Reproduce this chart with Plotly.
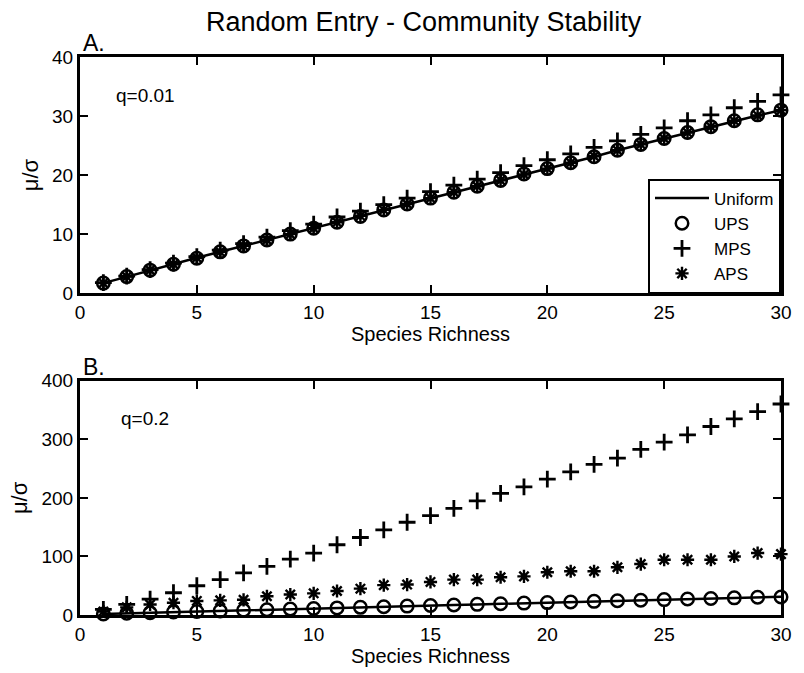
import plotly.graph_objects as go
from plotly.subplots import make_subplots

# Species richness (number of species in the community)
richness = list(range(1, 31))

# Panel A, q = 0.01
a_uniform = [1.7, 2.8, 3.9, 4.9, 6.0, 7.0, 8.0, 9.0, 10.0, 11.0,
             12.0, 13.0, 14.1, 15.1, 16.1, 17.1, 18.1, 19.1, 20.1, 21.1,
             22.1, 23.1, 24.2, 25.2, 26.2, 27.2, 28.2, 29.2, 30.1, 31.0]
a_ups = [1.7, 2.8, 3.9, 4.9, 5.9, 7.0, 8.0, 9.0, 10.0, 11.0,
         12.0, 13.0, 14.1, 15.1, 16.1, 17.1, 18.1, 19.1, 20.2, 21.1,
         22.1, 23.1, 24.2, 25.2, 26.2, 27.2, 28.2, 29.2, 30.2, 31.0]
a_mps = [1.8, 2.9, 4.0, 5.1, 6.2, 7.3, 8.4, 9.5, 10.6, 11.7,
         12.9, 13.9, 15.0, 16.1, 17.2, 18.3, 19.3, 20.4, 21.6, 22.6,
         23.6, 24.7, 25.8, 26.9, 28.0, 29.2, 30.2, 31.4, 32.5, 33.6]
a_aps = [1.7, 2.8, 3.9, 4.9, 6.0, 7.0, 8.0, 9.0, 10.0, 11.0,
         12.0, 13.1, 14.1, 15.1, 16.1, 17.1, 18.1, 19.1, 20.1, 21.1,
         22.1, 23.2, 24.2, 25.2, 26.2, 27.2, 28.2, 29.2, 30.1, 31.0]

# Panel B, q = 0.2
b_uniform = [1.7, 2.8, 3.9, 4.9, 6.0, 7.0, 8.0, 9.0, 10.0, 11.0,
             12.0, 13.0, 14.1, 15.1, 16.1, 17.1, 18.1, 19.1, 20.1, 21.1,
             22.1, 23.1, 24.2, 25.2, 26.2, 27.2, 28.2, 29.2, 30.1, 31.0]
b_ups = [1.8, 2.9, 3.9, 5.0, 6.0, 7.0, 8.1, 9.0, 10.1, 11.1,
         12.1, 13.1, 14.2, 15.2, 16.3, 17.2, 18.2, 19.2, 20.3, 21.2,
         22.2, 23.3, 24.3, 25.2, 26.3, 27.3, 28.3, 29.3, 30.2, 30.8]
b_mps = [9.5, 18, 27, 38, 50, 60.5, 72, 83, 95.6, 105.8,
         120, 132.4, 145.4, 158.4, 169.8, 182, 195, 207.6, 219, 232,
         244.5, 257.4, 268, 283, 295.4, 307.8, 322, 335, 347.4, 360.4]
b_aps = [6, 13, 18, 21, 24, 25, 26, 32, 35, 37,
         41, 45, 51, 52, 56.5, 60.5, 60.5, 64.5, 66, 73,
         74.7, 74.7, 81.5, 87, 94.4, 94.4, 94.4, 100, 105.8, 104]

x_ticks = [0, 5, 10, 15, 20, 25, 30]
a_y_ticks = [0, 10, 20, 30, 40]
b_y_ticks = [0, 100, 200, 300, 400]

FONT = "Liberation Sans, Arial, Helvetica, sans-serif"
W, H = 804, 673
M_L, M_R, M_T, M_B = 80, 14, 57, 56
PLOT_H = H - M_T - M_B


def py(pix):
    """Pixel row (from top of page) to paper y fraction."""
    return (H - M_B - pix) / PLOT_H


def px(pix):
    """Pixel column (from left of page) to paper x fraction."""
    return (pix - M_L) / (W - M_L - M_R)


fig = make_subplots(rows=2, cols=1)

panels = [
    (1, a_uniform, a_ups, a_mps, a_aps, True),
    (2, b_uniform, b_ups, b_mps, b_aps, False),
]
for row, uni, ups, mps, aps, show in panels:
    fig.add_trace(go.Scatter(
        x=richness, y=uni, mode="lines", name="Uniform",
        line=dict(color="black", width=2.5), showlegend=show,
        cliponaxis=False), row=row, col=1)
    fig.add_trace(go.Scatter(
        x=richness, y=ups, mode="markers", name="UPS",
        marker=dict(symbol="circle-open", size=12.5, color="black",
                    line=dict(width=2.5, color="black")),
        showlegend=show, cliponaxis=False), row=row, col=1)
    fig.add_trace(go.Scatter(
        x=richness, y=mps, mode="markers", name="MPS",
        marker=dict(symbol="cross-thin-open", size=12, color="black",
                    line=dict(width=2.8, color="black")),
        showlegend=show, cliponaxis=False), row=row, col=1)
    fig.add_trace(go.Scatter(
        x=richness, y=aps, mode="markers", name="APS",
        marker=dict(symbol="asterisk-open", size=11, color="black",
                    line=dict(width=2.4, color="black")),
        showlegend=show, cliponaxis=False), row=row, col=1)

axis_common = dict(
    showline=True, linecolor="black", linewidth=3, mirror="ticks",
    ticks="inside", ticklen=8, tickwidth=2, tickcolor="black",
    showgrid=False, zeroline=False,
    tickfont=dict(family=FONT, size=19, color="black"),
)

for row, yticks in ((1, a_y_ticks), (2, b_y_ticks)):
    fig.update_xaxes(
        range=[0, 30], tickvals=x_ticks, ticktext=[str(t) for t in x_ticks],
        title=dict(text="Species Richness", standoff=2,
                   font=dict(family=FONT, size=20, color="black")),
        **axis_common, row=row, col=1)
    fig.update_yaxes(
        range=[0, yticks[-1]], tickvals=yticks,
        ticktext=[str(t) for t in yticks],
        title=dict(text="\u03bc/\u03c3", standoff=8,
                   font=dict(family=FONT, size=22, color="black")),
        **axis_common, row=row, col=1)

fig.update_layout(
    xaxis=dict(domain=[0, 1]),
    xaxis2=dict(domain=[0, 1]),
    yaxis=dict(domain=[py(294), 1]),
    yaxis2=dict(domain=[0, py(382)]),
)

annotations = [
    dict(text="Random Entry - Community Stability", x=px(428), y=py(22),
         xanchor="center", yanchor="middle", font_size=27),
    dict(text="A.", x=px(81), y=py(58), xanchor="left", yanchor="bottom",
         font_size=23),
    dict(text="B.", x=px(81), y=py(383), xanchor="left", yanchor="bottom",
         font_size=23),
    dict(text="q=0.01", x=px(114), y=py(96), xanchor="left",
         yanchor="middle", font_size=19),
    dict(text="q=0.2", x=px(119), y=py(420), xanchor="left",
         yanchor="middle", font_size=19),
]
for a in annotations:
    size = a.pop("font_size")
    fig.add_annotation(xref="paper", yref="paper", showarrow=False,
                       font=dict(family=FONT, size=size, color="black"), **a)

fig.update_layout(
    width=W, height=H,
    margin=dict(l=M_L, r=M_R, t=M_T, b=M_B),
    paper_bgcolor="white", plot_bgcolor="white",
    font=dict(family=FONT, color="black"),
    legend=dict(
        x=px(790), y=py(179), xanchor="right", yanchor="top",
        bgcolor="white", bordercolor="black", borderwidth=2,
        font=dict(family=FONT, size=17, color="black"),
        tracegroupgap=0, itemwidth=54,
    ),
)

fig.write_html("out.html")
